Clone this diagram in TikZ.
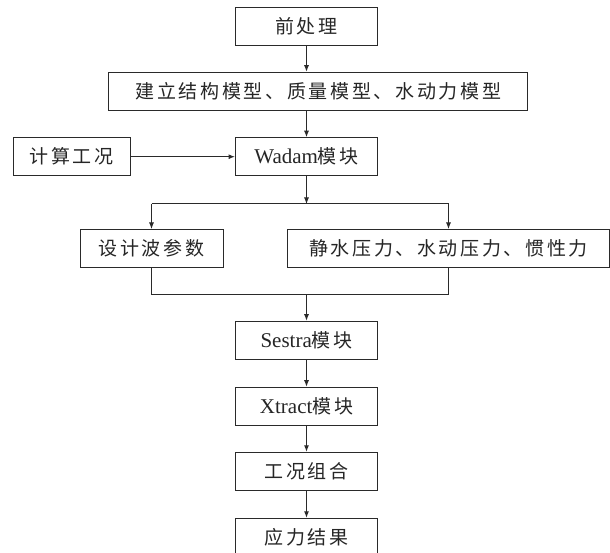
\documentclass[tikz,border=0pt]{standalone}
\usepackage{fontspec}
\setmainfont{Liberation Serif}
\newfontfamily\cjk[LetterSpace=14]{Noto Sans CJK SC}
\usetikzlibrary{positioning, arrows.meta}
\definecolor{linegray}{HTML}{2A2A2A}
\newcommand{\lat}[1]{{\rmfamily\fontsize{21}{23}\selectfont #1}}

\begin{document}
\begin{tikzpicture}[x=1pt, y=-1pt,
    % Styles
    stepbox/.style={draw=linegray, line width=1pt, minimum height=38pt, inner sep=0pt,
        font=\cjk\fontsize{19}{21}\selectfont, text=black!85},
    flow-arrow/.style={-{Latex[length=6.5pt, width=5pt]}, line width=1pt, linegray},
    flow-line/.style={line width=1pt, linegray},
]

% Canvas
\fill[white] (0,0) rectangle (610,553);
\useasboundingbox (0,0) rectangle (610,553);
\clip (0,0) rectangle (610,553);

% Top: model building
\node[stepbox, minimum width=142pt] (pre) at (306.5, 26.5) {前处理};
\node[stepbox, minimum width=419pt] (model) at (318.3, 91.2) {建立结构模型、质量模型、水动力模型};
\node[stepbox, minimum width=142pt] (wadam) at (306.5, 156.7) {\lat{Wadam}模块};
\node[stepbox, minimum width=117pt] (case) at (71.5, 156.7) {计算工况};

\draw[flow-arrow] (pre.south) -- (pre.south |- model.north);
\draw[flow-arrow] (pre.south |- model.south) -- (wadam.north);
\draw[flow-arrow] (case) -- (wadam);

% Middle: split into two branches
\node[stepbox, minimum width=143pt] (wave) at (151.5, 248.5) {设计波参数};
\node[stepbox, minimum width=321.5pt] (load) at (448.5, 248.5) {静水压力、水动压力、惯性力};

\coordinate (split) at (306.5, 204);
\coordinate (merge) at (306.5, 294.3);

\draw[flow-arrow] (wadam) -- (split);
\draw[flow-line] (wave.north |- split) -- (load.north |- split);
\draw[flow-arrow] (wave.north |- split) -- (wave.north);
\draw[flow-arrow] (load.north |- split) -- (load.north);

\draw[flow-line] (wave.south) -- (wave.south |- merge) -- (load.south |- merge) -- (load.south);

% Bottom: analysis chain
\node[stepbox, minimum width=142pt] (sestra) at (306.5, 340.2) {\lat{Sestra}模块};
\node[stepbox, minimum width=142pt] (xtract) at (306.5, 406.2) {\lat{Xtract}模块};
\node[stepbox, minimum width=142pt] (combo) at (306.5, 471.3) {工况组合};
\node[stepbox, minimum width=142pt] (stress) at (306.5, 537.3) {应力结果};

\draw[flow-arrow] (merge) -- (sestra);
\draw[flow-arrow] (sestra) -- (xtract);
\draw[flow-arrow] (xtract) -- (combo);
\draw[flow-arrow] (combo) -- (stress);

\end{tikzpicture}
\end{document}
